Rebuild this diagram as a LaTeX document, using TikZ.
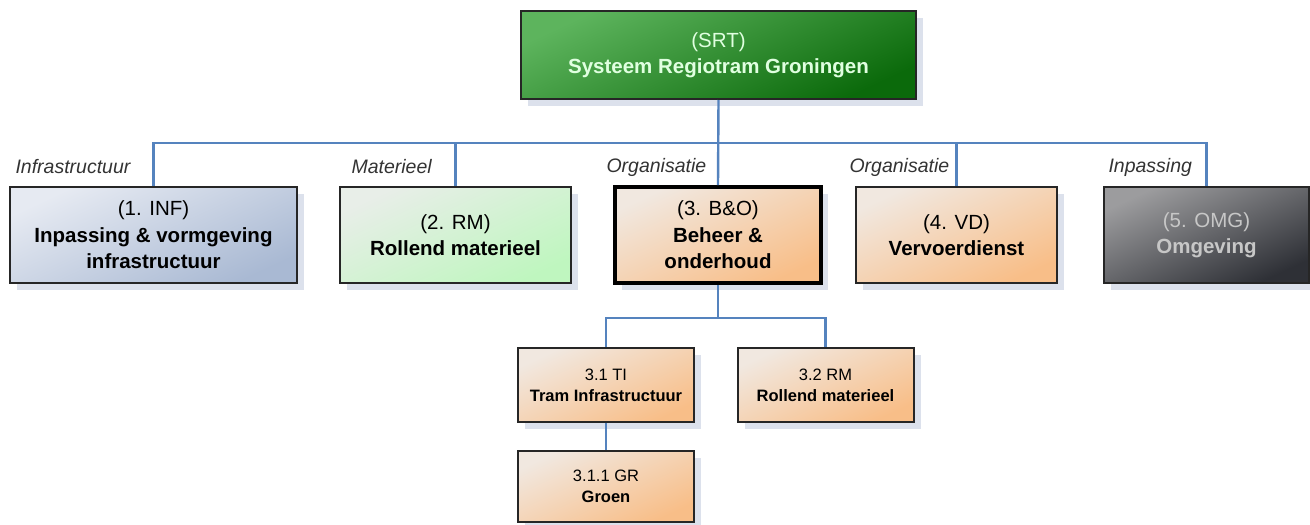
\documentclass[tikz,border=0pt]{standalone}
\usepackage{fontspec}
\setmainfont{Liberation Sans}
\usetikzlibrary{positioning, shadows}

\definecolor{linkblue}{HTML}{5583BE}
\definecolor{shadowgrey}{HTML}{DCE1EC}
\definecolor{srttop}{HTML}{5DB45D}
\definecolor{srtbot}{HTML}{0B6A0B}
\definecolor{inftop}{HTML}{E6EAF2}
\definecolor{infbot}{HTML}{A9B9D3}
\definecolor{rmtop}{HTML}{E8EEE8}
\definecolor{rmbot}{HTML}{BFF6BF}
\definecolor{peachtop}{HTML}{F1E8E0}
\definecolor{peachbot}{HTML}{F8BE88}
\definecolor{omgtop}{HTML}{9C9C9E}
\definecolor{omgbot}{HTML}{2E3036}

\begin{document}
\begin{tikzpicture}[x = 1pt, y = -1pt,
    box/.style = { draw = black!85, line width = 2pt, align = center, inner sep = 0pt,
      drop shadow = {shadow xshift=7pt,shadow yshift=-7pt,fill=shadowgrey,opacity=1},
      font = \fontsize{20.5}{26.5}\selectfont },
    subbox/.style = { box, top color = peachtop, bottom color = peachbot, shading angle = 25,
      minimum width = 176pt, minimum height = 74pt, font = \fontsize{16.5}{21}\selectfont },
    peach/.style = { top color = peachtop, bottom color = peachbot, shading angle = 25 },
    tag/.style = { anchor = west, font = \fontsize{19.5}{22}\selectfont\itshape, text = black!80 },
    conn/.style = { draw = linkblue, line width = 2.4pt }
  ]
  \useasboundingbox (0,0) rectangle (1310,525);

  % top
  \node [box, top color = srttop, bottom color = srtbot, shading angle = 25, text = white!88!green,
    minimum width = 395pt, minimum height = 88pt] (srt) at (718.5,55)
    { (SRT) \\ \textbf{Systeem Regiotram Groningen} };

  % first level
  \node [box, top color = inftop, bottom color = infbot, shading angle = 25,
    minimum width = 287pt, minimum height = 96pt] (inf) at (153.5,235)
    { (1. INF) \\ \textbf{Inpassing \& vormgeving} \\ \textbf{infrastructuur} };
  \node [box, top color = rmtop, bottom color = rmbot, shading angle = 25,
    minimum width = 231pt, minimum height = 96pt] (rm) at (455.5,235)
    { (2. RM) \\ \textbf{Rollend materieel} };
  \node [box, peach, draw = black, line width = 3.8pt,
    minimum width = 206pt, minimum height = 96pt] (bo) at (718,235)
    { (3. B\&O) \\ \textbf{Beheer \&} \\ \textbf{onderhoud} };
  \node [box, peach, minimum width = 201pt, minimum height = 96pt] (vd) at (956.5,235)
    { (4. VD) \\ \textbf{Vervoerdienst} };
  \node [box, top color = omgtop, bottom color = omgbot, shading angle = 25, text = black!22,
    minimum width = 205pt, minimum height = 96pt] (omg) at (1206.5,235)
    { (5. OMG) \\ \textbf{Omgeving} };

  \node [tag] at (12,167) {Infrastructuur};
  \node [tag] at (348,167) {Materieel};
  \node [tag] at (603,167) {Organisatie};
  \node [tag] at (846,167) {Organisatie};
  \node [tag] at (1105,167) {Inpassing};

  % second and third level
  \node [subbox] (ti) at (606,385) { 3.1 TI \\ \textbf{Tram Infrastructuur} };
  \node [subbox] (rms) at (825.5,385) { 3.2 RM \\ \textbf{Rollend materieel} };
  \node [subbox, minimum height = 71pt] (gr) at (606,486) { 3.1.1 GR \\ \textbf{Groen} };

  % connectors
  \coordinate (bus) at (718,143);
  \coordinate (sbus) at (718,318);
  \draw [conn] (srt.south) -- (bo.north);
  \foreach \c in {inf, rm, vd, omg}
    \draw [conn] (bus) -| (\c.north);
  \draw [conn] (bo.south) -- (sbus);
  \foreach \c in {ti, rms}
    \draw [conn] (sbus) -| (\c.north);
  \draw [conn] (ti.south) -- (gr.north);
\end{tikzpicture}
\end{document}
